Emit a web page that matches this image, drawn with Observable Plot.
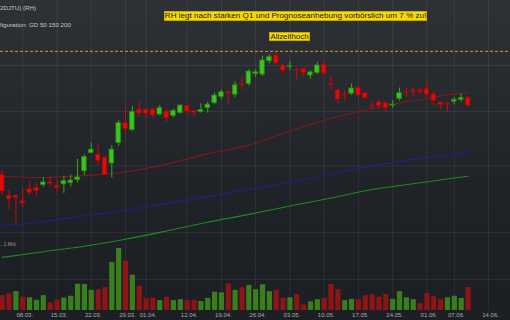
<!DOCTYPE html>
<html><head><meta charset="utf-8">
<script src="https://cdn.jsdelivr.net/npm/d3@7"></script>
<script src="https://cdn.jsdelivr.net/npm/@observablehq/plot@0.6"></script>
<style>
html,body{margin:0;padding:0;background:#1c1f23;}
#wrap{position:relative;width:510px;height:320px;overflow:hidden;background:linear-gradient(#2e3237 0%,#26292e 30%,#1f2226 60%,#1b1e22 100%);font-family:"Liberation Sans",Arial,sans-serif;}
#wrap svg{position:absolute;left:0;top:0;}
.hdr{position:absolute;left:0;color:#c4c7ca;font-size:6.2px;line-height:7px;white-space:nowrap;}
.box{position:absolute;background:#f6d908;color:#1a1a1a;line-height:9px;white-space:nowrap;box-sizing:border-box;border:1px solid #c9a900;display:flex;align-items:center;justify-content:center;}
.vlab{position:absolute;left:0;top:242px;color:#9a9da0;font-size:4.6px;white-space:nowrap;}
</style></head><body><div id="wrap"></div><script>
// ---- data ----
const open  = [485,452,452,444,462,464,469,473,467,470,472,477,491,522,519,514,504,540,577,564,603,603,604,594,600,591,597,611,601,599,607,617,630,640,635,658,658,680,679,710,724,700,697,690,692,677,683,702,658,644,635,637,649,638,612,619,617,612,626,641,644,644,647,635,618,616,620,624,628];
const high  = [492,460,454,465,473,472,481,481,476,483,485,511,519,540,538,515,535,582,610,610,619,605,606,612,604,605,614,612,602,616,619,639,645,641,663,673,690,690,722,726,732,704,710,695,693,688,708,708,675,645,644,658,655,640,619,624,619,622,649,649,649,649,662,640,619,619,629,637,631];
const low   = [453,432,412,435,453,451,465,467,458,456,466,472,484,521,499,484,480,534,557,561,590,585,587,591,579,587,595,595,590,597,597,614,624,614,628,645,653,673,675,704,704,684,688,664,673,669,679,680,645,616,620,633,628,626,602,605,597,606,621,629,631,635,631,610,603,600,614,619,609];
const close = [459,447,449,441,457,460,473,471,464,475,476,481,515,528,508,485,528,577,566,599,596,596,592,607,587,601,612,600,597,603,614,633,640,637,655,655,686,684,712,720,705,688,699,687,683,684,700,681,655,625,633,648,633,628,610,611,607,614,638,639,641,640,635,622,613,614,624,628,612];
const volume = [0.48,0.54,0.61,0.43,0.41,0.33,0.48,0.25,0.33,0.40,0.46,0.85,0.84,0.65,0.67,0.74,1.55,2.00,1.59,1.14,0.78,0.39,0.40,0.32,0.43,0.32,0.35,0.32,0.32,0.29,0.39,0.59,0.57,0.86,0.65,0.74,0.81,0.67,0.83,0.61,0.65,0.39,0.41,0.52,0.18,0.28,0.35,0.38,0.84,0.67,0.32,0.36,0.35,0.48,0.51,0.43,0.52,0.36,0.61,0.41,0.35,0.22,0.55,0.46,0.35,0.41,0.46,0.39,0.74];
const volUp = [0,0,1,0,1,1,1,0,0,1,1,1,1,1,0,0,1,1,0,1,0,0,0,1,0,1,1,0,0,1,1,1,1,0,1,0,1,1,1,1,0,0,1,0,0,1,1,0,0,0,1,1,0,0,0,0,0,1,1,1,1,0,0,0,0,1,1,1,0];
const maIndex = [0,6,12,18,24,30,36,42,48,54,60,66,68];
const ma50  = [483,481,484,490,503,521,536,562,586,606,622,636,639];
const ma150 = [409,415,423,431,441,451,462,473,486,500,511,520,524];
const ma200 = [368,375,382,391,402,414,425,437,449,462,471,480,483];
const allTimeHigh = 734;
const priceGrid = [400,500,600,700];
const volumeGrid = [1];
const tickIndex  = [3,8,13,18,21,27,32,37,42,47,52,57,62,66,71];
const tickLabels = ["08.03.","15.03.","22.03.","29.03.","01.04.","12.04.","19.04.","26.04.","03.05.","10.05.","17.05.","24.05.","01.06.","07.06.","14.06."];

// ---- build ----
const bars = open.map((o,i)=>({i,o,h:high[i],l:low[i],c:close[i],v:volume[i],vu:volUp[i]===1}));
const upBars = bars.filter(d=>d.c>=d.o), downBars = bars.filter(d=>d.c<d.o);
const mk = arr => maIndex.map((i,k)=>({i, v:arr[k]}));
const W=510,H=320, xDomain=[-0.25,74.2];
const gridCol = "#ffffff", gridOp = 0.07;

const volPlot = Plot.plot({
  width:W,height:H,marginTop:0,marginLeft:0,marginRight:0,marginBottom:10,
  x:{domain:xDomain,axis:null},
  y:{domain:[0,10],axis:null},
  style:{background:"transparent",overflow:"visible"},
  marks:[
    Plot.ruleX(tickIndex,{x:d=>d,stroke:gridCol,strokeOpacity:gridOp}),
    Plot.ruleY(volumeGrid,{y:d=>d,stroke:gridCol,strokeOpacity:gridOp}),
    Plot.ruleX(bars.filter(d=>d.vu),{x:"i",y1:0,y2:"v",stroke:"#3b7f1d",strokeWidth:5.2}),
    Plot.ruleX(bars.filter(d=>!d.vu),{x:"i",y1:0,y2:"v",stroke:"#8e1515",strokeWidth:5.2}),
    Plot.text(tickIndex,{x:d=>d,text:(d,k)=>tickLabels[k],frameAnchor:"bottom",lineAnchor:"middle",dy:4.5,dx:2,fontSize:6,fill:"#a9acaf",fontFamily:"Liberation Sans, Arial, sans-serif"})
  ]
});

const pricePlot = Plot.plot({
  width:W,height:H,margin:0,
  x:{domain:xDomain,axis:null},
  y:{type:"log",domain:[297.8,870.4],axis:null},
  style:{background:"transparent",overflow:"visible"},
  marks:[
    Plot.ruleY(priceGrid,{y:d=>d,stroke:gridCol,strokeOpacity:gridOp}),
    Plot.ruleY([allTimeHigh],{y:d=>d,stroke:"#d79b2c",strokeDasharray:"3,2",strokeWidth:1}),
    Plot.line(mk(ma200),{x:"i",y:"v",stroke:"#1f8a1f",strokeWidth:1.1,curve:"monotone-x"}),
    Plot.line(mk(ma150),{x:"i",y:"v",stroke:"#20208f",strokeWidth:1.1,curve:"monotone-x"}),
    Plot.line(mk(ma50),{x:"i",y:"v",stroke:"#7e1a1a",strokeWidth:1.1,curve:"monotone-x"}),
    Plot.ruleX(upBars,{x:"i",y1:"l",y2:"h",stroke:"#35a81a",strokeWidth:1}),
    Plot.ruleX(downBars,{x:"i",y1:"l",y2:"h",stroke:"#c80d0d",strokeWidth:1}),
    Plot.rect(upBars,{x1:d=>d.i-0.33,x2:d=>d.i+0.33,y1:"o",y2:"c",fill:"#3cc41c",stroke:"#2a8a12",strokeWidth:0.8}),
    Plot.rect(downBars,{x1:d=>d.i-0.33,x2:d=>d.i+0.33,y1:"o",y2:"c",fill:"#e30a0a",stroke:"#a80808",strokeWidth:0.8})
  ]
});

const wrap = document.getElementById("wrap");
wrap.appendChild(volPlot);
wrap.appendChild(pricePlot);
function addDiv(cls, text, css){const d=document.createElement("div");d.className=cls;d.textContent=text;Object.assign(d.style,css);wrap.appendChild(d);}
addDiv("hdr","2DJTU) (RH)",{top:"4px"});
addDiv("hdr","figuration: GD 50 150 200",{top:"20.5px"});
addDiv("box","RH legt nach starken Q1 und Prognoseanhebung vorbörslich um 7 % zu!",{left:"164px",top:"10.5px",width:"263px",height:"10px",fontSize:"8.1px"});
addDiv("box","Allzeithoch",{left:"269px",top:"31.5px",width:"41px",height:"9px",fontSize:"7.9px"});
addDiv("vlab","., 1 Mrd.",{});
</script></body></html>
